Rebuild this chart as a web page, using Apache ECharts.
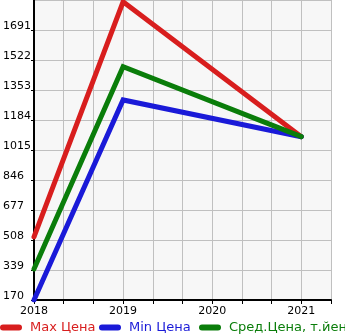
<!DOCTYPE html>
<html><head><meta charset="utf-8">
<script src="https://cdn.jsdelivr.net/npm/echarts@6/dist/echarts.min.js"></script>
<style>html,body{margin:0;padding:0;background:#fff}#c{width:345px;height:335px}</style>
</head><body><div id="c"></div>
<script>
const years = [2018, 2019, 2021];
const maxPrice = [525, 1850, 1090];
const minPrice = [170, 1297, 1090];
const avgPrice = [345, 1484, 1090];
const seriesNames = ['Max Цена', 'Min Цена', 'Сред.Цена, т.йен'];
const colors = ['#d81e1e', '#1a1ad8', '#0a7d0a'];
const legendLeft = [0, 99, 199];

const chart = echarts.init(document.getElementById('c'), null, {renderer: 'canvas'});
const mk = (name, vals, color) => ({
  name, type: 'line', data: years.map((y, i) => [y, vals[i]]),
  showSymbol: false, symbol: 'none',
  lineStyle: {color, width: 5, cap: 'round', join: 'miter'},
  itemStyle: {color}, emphasis: {disabled: true}, animation: false
});
const capsule = 'path://M3,0 L19,0 A3,3 0 0 1 19,6 L3,6 A3,3 0 0 1 3,0 Z';
chart.setOption({
  animation: false,
  backgroundColor: '#fff',
  grid: {left: 31, right: 14, top: 0, bottom: 35, show: true, backgroundColor: '#f7f7f7', borderWidth: 0},
  legend: seriesNames.map((n, i) => ({
    top: 321, left: legendLeft[i], padding: 0, itemWidth: 22, itemHeight: 6,
    icon: capsule, selectedMode: false,
    data: [{name: n, textStyle: {color: colors[i]}}],
    textStyle: {fontSize: 13, fontFamily: 'DejaVu Sans', padding: [0,0,0,3]}
  })),
  xAxis: {
    type: 'value', min: 2018, max: 2021 + 1/3, interval: 1/3,
    axisLine: {lineStyle: {color: '#000', width: 2}},
    axisTick: {show: true, length: 4, lineStyle: {color: '#000'}},
    splitLine: {show: true, lineStyle: {color: '#c0c0c0', width: 1}},
    axisLabel: {
      color: '#000', fontSize: 11, fontFamily: 'DejaVu Sans', margin: 6,
      showMaxLabel: false,
      formatter: v => Math.abs(v - Math.round(v)) < 1e-6 ? String(Math.round(v)) : ''
    }
  },
  yAxis: {
    type: 'value', min: 170, max: 1860, interval: 169,
    axisLine: {show: true, lineStyle: {color: '#000', width: 2}},
    axisTick: {show: true, length: 3, lineStyle: {color: '#000'}},
    splitLine: {show: true, lineStyle: {color: '#c0c0c0', width: 1}},
    axisLabel: {
      color: '#000', fontSize: 11, fontFamily: 'DejaVu Sans', align: 'left', margin: 31,
      showMaxLabel: false, verticalAlign: 'bottom', padding: [0,0,-2,0],
      formatter: v => String(Math.round(v))
    }
  },
  series: [
    mk(seriesNames[0], maxPrice, colors[0]),
    mk(seriesNames[1], minPrice, colors[1]),
    mk(seriesNames[2], avgPrice, colors[2])
  ]
});
</script></body></html>
